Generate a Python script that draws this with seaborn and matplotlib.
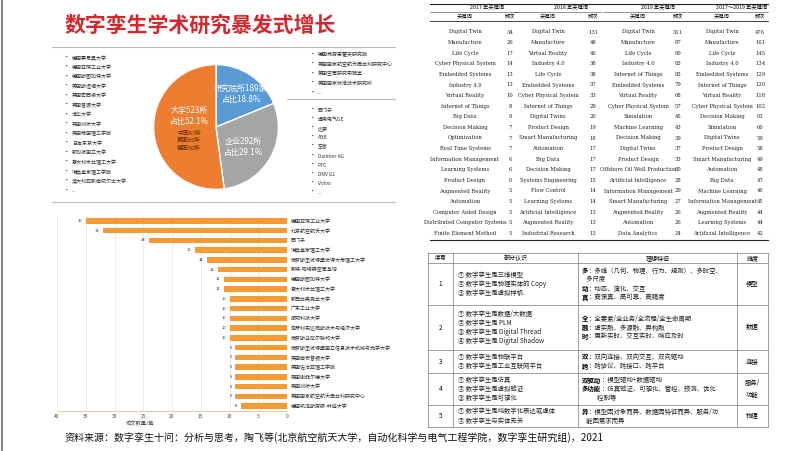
import numpy as np
import pandas as pd
import matplotlib
matplotlib.use("Agg")
import matplotlib.pyplot as plt
import seaborn as sns

plt.rcParams['font.family'] = ['Noto Sans CJK SC', 'DejaVu Sans']

# ---- data ----
pie_labels = ['研究院所189家\n占比18.8%', '企业292所\n占比29.1%', '大学523所\n占比52.1%']
pie_values = [189, 292, 523]
pie_colors = ['#5B9BD5', '#A5A5A5', '#ED7D31']

univ_list = ['德国慕尼黑大学', '德国亚琛工业大学', '德国斯图加特大学', '美国斯坦福大学', '美国密西根大学',
             '美国普渡大学', '清华大学', '英国剑桥大学', '英国帝国理工学院', '日本东京大学',
             '新加坡国立大学', '意大利米兰理工大学', '瑞典皇家理工学院', '澳大利亚新南威尔士大学', '...']
inst_list = ['德国弗劳恩霍夫研究院', '美国国家航空航天局兰利研究中心', '美国空军研究实验室', '美国国家标准技术研究所', '...']
corp_list = ['西门子', '通用电气GE', '达索', 'ABB', '空客', 'Daimler AG', 'PTC', 'DNV GL', 'Volvo', '...']

bar_names = ['德国亚琛工业大学', '北京航空航天大学', '西门子', '瑞典皇家理工大学', '俄罗斯圣彼得堡彼得大帝理工大学',
             '赖特-帕特森空军基地', '德国斯图加特大学', '意大利米兰理工大学', '新西兰奥克兰大学', '广东工业大学',
             '挪威科技大学', '匈牙利布达佩斯技术与经济大学', '俄罗斯乌拉尔联邦大学', '俄罗斯圣彼得堡国立信息技术机械与光学大学',
             '英国南安普顿大学', '美国佐治亚理工学院', '英国谢菲尔德大学', '英国剑桥大学', '美国国家航空航天局兰利研究中心',
             '德国凯泽斯劳滕-林道大学']
bar_values = [35, 32, 24, 16, 14, 12, 11, 11, 10, 10, 10, 10, 10, 9, 9, 9, 9, 9, 9, 8]

kw_2017 = ['Digital Twin', 'Manufacture', 'Life Cycle', 'Cyber Physical System', 'Embedded Systems', 'Industry 4.0',
           'Virtual Reality', 'Internet of Things', 'Big Data', 'Decision Making', 'Optimization', 'Real Time Systems',
           'Information Management', 'Learning Systems', 'Product Design', 'Augmented Reality', 'Automation',
           'Computer Aided Design', 'Distributed Computer Systems', 'Finite Element Method']
fq_2017 = [34, 26, 17, 14, 13, 13, 10, 8, 8, 7, 7, 7, 6, 6, 6, 5, 5, 5, 5, 5]
kw_2018 = ['Digital Twin', 'Manufacture', 'Virtual Reality', 'Industry 4.0', 'Life Cycle', 'Embedded Systems',
           'Cyber Physical System', 'Internet of Things', 'Digital Twins', 'Product Design', 'Smart Manufacturing',
           'Automation', 'Big Data', 'Decision Making', 'Systems Engineering', 'Flow Control', 'Learning Systems',
           'Artificial Intelligence', 'Augmented Reality', 'Industrial Research']
fq_2018 = [131, 48, 40, 38, 38, 37, 33, 29, 20, 19, 18, 17, 17, 17, 15, 14, 14, 13, 13, 13]
kw_2019 = ['Digital Twin', 'Manufacture', 'Life Cycle', 'Industry 4.0', 'Internet of Things', 'Embedded Systems',
           'Virtual Reality', 'Cyber Physical System', 'Simulation', 'Machine Learning', 'Decision Making',
           'Digital Twins', 'Product Design', 'Offshore Oil Well Production', 'Artificial Intelligence',
           'Information Management', 'Smart Manufacturing', 'Augmented Reality', 'Automation', 'Data Analytics']
fq_2019 = [311, 87, 90, 83, 83, 79, 68, 57, 45, 43, 39, 37, 33, 30, 28, 29, 27, 26, 26, 24]
kw_all = ['Digital Twin', 'Manufacture', 'Life Cycle', 'Industry 4.0', 'Embedded Systems', 'Internet of Things',
          'Virtual Reality', 'Cyber Physical System', 'Decision Making', 'Simulation', 'Digital Twins',
          'Product Design', 'Smart Manufacturing', 'Automation', 'Big Data', 'Machine Learning',
          'Information Management', 'Augmented Reality', 'Learning Systems', 'Artificial Intelligence']
fq_all = [476, 161, 145, 134, 129, 120, 118, 102, 63, 60, 59, 58, 49, 48, 47, 46, 45, 44, 44, 42]
kw_headers = ['2017 年关键词', '2018 年关键词', '2019 年关键词', '2017～2019 年关键词']

tb_no = ['1', '2', '3', '4', '5']
tb_part = [['① 数字孪生是三维模型', '② 数字孪生是物理实体的 Copy', '③ 数字孪生是虚拟样机'],
           ['① 数字孪生是数据/大数据', '② 数字孪生是 PLM', '③ 数字孪生是 Digital Thread', '④ 数字孪生是 Digital Shadow'],
           ['① 数字孪生是物联平台', '② 数字孪生是工业互联网平台'],
           ['① 数字孪生是仿真', '② 数字孪生是虚拟验证', '③ 数字孪生是可视化'],
           ['① 数字孪生是纯数字化表达或虚体', '② 数字孪生与实体无关']]
tb_ideal = [[('多', '：多维（几何、物理、行为、规则）、多时空、'), ('', '   多尺度'), ('动', '：动态、演化、交互'), ('真', '：高保真、高可靠、高精度')],
            [('全', '：全要素/全业务/全流程/全生命周期'), ('融', '：虚实融、多源融、异构融'), ('时', '：更新实时、交互实时、响应及时')],
            [('双', '：双向连接、双向交互、双向驱动'), ('跨', '：跨协议、跨接口、跨平台')],
            [('双驱动', '：模型驱动+数据驱动'), ('多功能', '：仿真验证、可视化、管控、预测、优化'), ('', '           控制等')],
            [('异', '：模型因对象而异、数据因特征而异、服务/功'), ('', '   能因需求而异')]]
tb_dim = ['模型', '数据', '连接', '服务/\n功能', '物理']

W, H = 802, 451
fig = plt.figure(figsize=(W / 100, H / 100), dpi=100)
fig.patch.set_facecolor('white')

# overlay in pixel coordinates
ov = fig.add_axes([0, 0, 1, 1])
ov.set_xlim(0, W)
ov.set_ylim(H, 0)
ov.axis('off')

ov.text(65, 25, '数字孪生学术研究暴发式增长', fontsize=15, fontweight='bold', color='#D7262B', va='center')
ov.plot([2, 2], [0, H], color='#888888', lw=1.5)
ov.plot([52, 395], [47, 47], color='#BBBBBB', lw=0.8)
ov.plot([52, 395], [202, 202], color='#BBBBBB', lw=0.8)
ov.plot([287, 395], [99, 99], color='#BBBBBB', lw=0.8)
for i, t in enumerate(univ_list):
    y = 58 + i * 9.5
    ov.text(64, y, '•', fontsize=4, va='center')
    ov.text(72, y, t, fontsize=3.6, va='center', color='#333333')
for i, t in enumerate(inst_list):
    y = 55 + i * 9.5
    ov.text(310, y, '•', fontsize=4, va='center')
    ov.text(318, y, t, fontsize=3.6, va='center', color='#333333')
for i, t in enumerate(corp_list):
    y = 110 + i * 9.2
    ov.text(310, y, '•', fontsize=4, va='center')
    ov.text(318, y, t, fontsize=3.6, va='center', color='#333333')

# pie
pax = fig.add_axes([(216 - 78) / W, 1 - (127 + 78) / H, 156 / W, 156 / H])
wedges, _ = pax.pie(pie_values, colors=pie_colors, startangle=90, counterclock=False,
                    wedgeprops=dict(edgecolor='white', linewidth=1))
pax.set_aspect('equal')
pax.text(0.40, 0.53, pie_labels[0], color='white', fontsize=5.8, ha='center', va='center', linespacing=1.3)
pax.text(0.44, -0.32, pie_labels[1], color='white', fontsize=5.8, ha='center', va='center', linespacing=1.3)
pax.text(-0.43, 0.18, pie_labels[2], color='white', fontsize=5.8, ha='center', va='center', linespacing=1.3)
pax.text(-0.43, -0.22, '中国67所\n美国65所\n德国50所', color='#5a2a00', fontsize=4.2, ha='center', va='center', linespacing=1.35)

# bar chart
bax = fig.add_axes([57 / W, 1 - 411 / H, 230 / W, 195 / H])
df = pd.DataFrame({'name': bar_names, 'value': bar_values})
sns.barplot(data=df, x='value', y='name', orient='h', color='#F79A35', width=0.55, ax=bax, saturation=1)
bax.set_xlim(40, 0)
bax.set_xticks(range(0, 41, 5))
bax.tick_params(axis='x', labelsize=3.5, length=0, pad=2, colors='#444444')
bax.yaxis.tick_right()
bax.tick_params(axis='y', labelsize=3.6, length=0, pad=3, colors='#333333')
bax.set_ylabel('')
bax.set_xlabel('论文数量/篇', fontsize=3.8, color='#444444', labelpad=2)
bax.xaxis.set_label_coords(0.36, -0.05)
bax.grid(axis='x', color='#E3E3E3', lw=0.5)
bax.set_axisbelow(True)
for s in ['top', 'left', 'right']:
    bax.spines[s].set_visible(False)
bax.spines['bottom'].set_color('#F0B070')
bax.spines['bottom'].set_linewidth(0.5)
for i, v in enumerate(bar_values):
    bax.text(v + 0.6, i, str(v), fontsize=3, ha='right', va='center', color='#333333')

# keyword table
kw_x = [465, 548, 638, 722]
fq_x = [510, 593, 678, 760]
groups = [(kw_2017, fq_2017), (kw_2018, fq_2018), (kw_2019, fq_2019), (kw_all, fq_all)]
ov.plot([430, 768], [4, 4], color='#222222', lw=0.8)
ov.plot([430, 768], [21, 21], color='#222222', lw=0.6)
ov.plot([430, 768], [240, 240], color='#222222', lw=0.8)
for g, (kws, fqs) in enumerate(groups):
    ov.text((kw_x[g] + fq_x[g]) / 2, 7.5, kw_headers[g], fontsize=3.8, ha='center', va='center')
    ov.plot([kw_x[g] - 35, fq_x[g] + 8], [12, 12], color='#444444', lw=0.4)
    ov.text(kw_x[g], 16.5, '关键词', fontsize=3.8, ha='center', va='center')
    ov.text(fq_x[g], 16.5, '频次', fontsize=3.8, ha='center', va='center')
    for i, (k, f) in enumerate(zip(kws, fqs)):
        y = 32 + 10.6 * i
        ov.text(kw_x[g], y, k, fontsize=3.8, ha='center', va='center', family='DejaVu Serif', color='#222222')
        ov.text(fq_x[g], y, str(f), fontsize=3.8, ha='center', va='center', family='DejaVu Serif', color='#222222')

# second table
cx = [428, 453, 578, 737, 768]
ry = [253, 263, 305, 350, 373, 405, 427]
for x in cx:
    ov.plot([x, x], [ry[0], ry[-1]], color='#777777', lw=0.5)
for y in ry:
    ov.plot([cx[0], cx[-1]], [y, y], color='#777777', lw=0.5)
for j, h in enumerate(['序号', '部分认识', '理想特征', '维度']):
    ov.text((cx[j] + cx[j + 1]) / 2, 258, h, fontsize=4.3, ha='center', va='center')
fs = 4.6
for r in range(5):
    top, bot = ry[r + 1], ry[r + 2]
    mid = (top + bot) / 2
    ov.text((cx[0] + cx[1]) / 2, mid, tb_no[r], fontsize=fs, ha='center', va='center')
    ov.text((cx[3] + cx[4]) / 2, mid, tb_dim[r], fontsize=fs, ha='center', va='center', linespacing=1.5)
    n = len(tb_part[r])
    for k, t in enumerate(tb_part[r]):
        ov.text(458, mid + (k - (n - 1) / 2) * 9, t, fontsize=fs, va='center', color='#222222')
    n = len(tb_ideal[r])
    for k, (b, t) in enumerate(tb_ideal[r]):
        y = mid + (k - (n - 1) / 2) * 9
        ov.text(582, y, b, fontsize=fs, va='center', fontweight='bold')
        ov.text(582 + 6.5 * len(b), y, t, fontsize=fs, va='center', color='#222222')

ov.text(65, 438, '资料来源：数字孪生十问：分析与思考，陶飞等(北京航空航天大学，自动化科学与电气工程学院，数字孪生研究组)，2021',
        fontsize=7.2, va='center', color='#111111')

fig.savefig('out.png', dpi=100)
